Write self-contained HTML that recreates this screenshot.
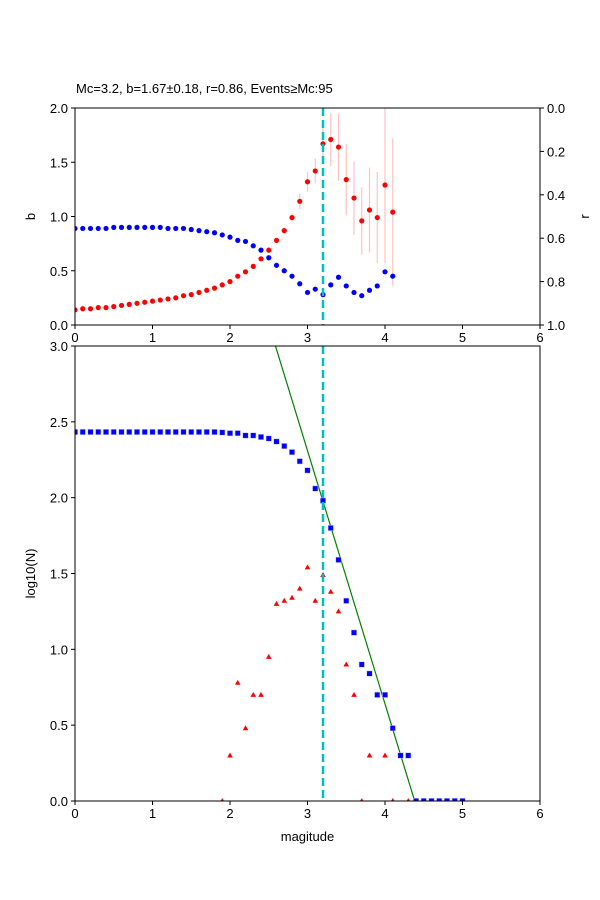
<!DOCTYPE html>
<html><head><meta charset="utf-8"><style>
body{margin:0;background:#fff}
svg{display:block;font-family:"Liberation Sans","DejaVu Sans",sans-serif}
</style></head><body>
<svg id="fig" width="600" height="900" viewBox="0 0 600 900"></svg>
<script>
const mags = [];
for (let i = 0; i <= 50; i++) mags.push(+(i / 10).toFixed(1));
// top panel data (mags 0..4.1)
const bValues = [0.14,0.15,0.15,0.16,0.16,0.17,0.18,0.19,0.20,0.21,0.22,0.23,0.24,0.25,0.27,0.28,0.30,0.32,0.34,0.37,0.40,0.45,0.49,0.54,0.61,0.69,0.78,0.87,0.99,1.14,1.32,1.42,1.67,1.71,1.64,1.34,1.17,0.96,1.06,0.99,1.29,1.04];
const bErrors = [0,0,0,0,0,0,0,0,0,0,0,0,0,0,0,0,0,0,0,0,0,0.01,0.01,0.01,0.02,0.02,0.02,0.03,0.04,0.07,0.09,0.115,0.17,0.245,0.31,0.33,0.34,0.31,0.39,0.42,0.72,0.68];
const rValues = [0.555,0.555,0.555,0.555,0.555,0.55,0.55,0.55,0.55,0.55,0.55,0.55,0.555,0.555,0.555,0.56,0.565,0.57,0.575,0.585,0.595,0.61,0.615,0.635,0.655,0.69,0.725,0.75,0.775,0.81,0.85,0.835,0.86,0.815,0.78,0.82,0.85,0.865,0.84,0.82,0.755,0.775];
// bottom panel data
const cumLogN = [2.433,2.433,2.433,2.433,2.433,2.433,2.433,2.433,2.433,2.433,2.433,2.433,2.433,2.433,2.433,2.433,2.433,2.433,2.433,2.43,2.425,2.425,2.41,2.41,2.40,2.39,2.37,2.34,2.30,2.24,2.18,2.06,1.98,1.80,1.59,1.32,1.11,0.90,0.84,0.70,0.70,0.48,0.30,0.30,0,0,0,0,0,0,0];
const ncMags = [1.9,2.0,2.1,2.2,2.3,2.4,2.5,2.6,2.7,2.8,2.9,3.0,3.1,3.2,3.3,3.4,3.5,3.6,3.7,3.8,4.0,4.1,4.3];
const ncLogN = [0,0.30,0.78,0.48,0.70,0.70,0.95,1.30,1.32,1.34,1.40,1.54,1.32,1.49,1.38,1.25,0.90,0.70,0,0.30,0.30,0,0];
const Mc = 3.2, bFit = 1.67, aFit = 7.32;
const xTicks = [0,1,2,3,4,5,6];
const bTicks = [0,0.5,1.0,1.5,2.0];
const rTicks = [0,0.2,0.4,0.6,0.8,1.0];
const nTicks = [0,0.5,1.0,1.5,2.0,2.5,3.0];

const NS = "http://www.w3.org/2000/svg";
const svg = document.getElementById('fig');
function el(tag, attrs, parent) {
  const e = document.createElementNS(NS, tag);
  for (const k in attrs) e.setAttribute(k, attrs[k]);
  (parent || svg).appendChild(e);
  return e;
}
const L = 75, R = 540;
const X = m => L + (m / 6) * (R - L);
const T0 = 108, T1 = 325, B0 = 346, B1 = 801;
const Yb = b => T1 - (b / 2) * (T1 - T0);
const Yr = r => T0 + r * (T1 - T0);
const Yn = n => B1 - (n / 3) * (B1 - B0);

// clip paths
const defs = el('defs', {});
const c1 = el('clipPath', {id: 'ct'}, defs); el('rect', {x: L, y: T0, width: R - L, height: T1 - T0}, c1);
const c2 = el('clipPath', {id: 'cb'}, defs); el('rect', {x: L, y: B0, width: R - L, height: B1 - B0}, c2);

// title
const title = el('text', {x: 76, y: 93, 'font-size': 13}); title.textContent = 'Mc=3.2, b=1.67±0.18, r=0.86, Events≥Mc:95';



// ===== top panel =====
const gt = el('g', {'clip-path': 'url(#ct)'});


bValues.forEach((b, i) => {
  const e = bErrors[i];
  if (e > 0) {
    const ln = el('line', {x1: X(mags[i]), x2: X(mags[i]), y1: Yb(b - e), y2: Yb(b + e), stroke: '#ffc0c0', 'stroke-width': 1.2}, gt);
    
    
  }
});
bValues.forEach((b, i) => {
  const c = el('circle', {cx: X(mags[i]), cy: Yb(b), r: 2.6, fill: 'red'}, gt);
  
  
});
rValues.forEach((r, i) => {
  const c = el('circle', {cx: X(mags[i]), cy: Yr(r), r: 2.6, fill: 'blue'}, gt);
  
  
});
const mt = el('line', {x1: X(Mc), x2: X(Mc), y1: T0, y2: T1, stroke: '#00bfbf', 'stroke-width': 2.5, 'stroke-dasharray': '8,4'});


el('rect', {x: L, y: T0, width: R - L, height: T1 - T0, fill: 'none', stroke: '#000', 'stroke-width': 1});

xTicks.forEach(t => {
  el('line', {x1: X(t), x2: X(t), y1: T1, y2: T1 + 4, stroke: '#000'});
  const tx = el('text', {x: X(t), y: T1 + 17, 'font-size': 13, 'text-anchor': 'middle'}); tx.textContent = t;
  
  
});
bTicks.forEach(t => {
  el('line', {x1: L - 4, x2: L, y1: Yb(t), y2: Yb(t), stroke: '#000'});
  const tx = el('text', {x: L - 7, y: Yb(t) + 5, 'font-size': 13, 'text-anchor': 'end'}); tx.textContent = t.toFixed(1);
  
  
});
rTicks.forEach(t => {
  el('line', {x1: R, x2: R + 4, y1: Yr(t), y2: Yr(t), stroke: '#000'});
  const tx = el('text', {x: R + 7, y: Yr(t) + 5, 'font-size': 13}); tx.textContent = t.toFixed(1);
  
  
});
const yb = el('text', {x: 0, y: 0, 'font-size': 13, 'text-anchor': 'middle', transform: `translate(35,${(T0 + T1) / 2}) rotate(-90)`}); yb.textContent = 'b';


const yr = el('text', {x: 0, y: 0, 'font-size': 13, 'text-anchor': 'middle', transform: `translate(589,${(T0 + T1) / 2}) rotate(-90)`}); yr.textContent = 'r';



// ===== bottom panel =====
const gb = el('g', {'clip-path': 'url(#cb)'});


const mStart = (aFit - 3.2) / bFit, mEnd = aFit / bFit;
const fit = el('line', {x1: X(mStart), y1: Yn(aFit - bFit * mStart), x2: X(mEnd), y2: Yn(aFit - bFit * mEnd), stroke: 'green', 'stroke-width': 1.2}, gb);


ncMags.forEach((m, i) => {
  const x = X(m), y = Yn(ncLogN[i]);
  const p = el('polygon', {points: `${x},${y - 3} ${x - 2.8},${y + 2} ${x + 2.8},${y + 2}`, fill: 'red'}, gb);
  
  
});
cumLogN.forEach((n, i) => {
  const x = X(mags[i]), y = Yn(n);
  const s = el('rect', {x: x - 2.7, y: y - 2.7, width: 5.4, height: 5.4, fill: 'blue', stroke: '#c8c8ff', 'stroke-width': 0.5}, gb);
  
  
});
const mb = el('line', {x1: X(Mc), x2: X(Mc), y1: B0, y2: B1, stroke: '#00bfbf', 'stroke-width': 2.5, 'stroke-dasharray': '8,4'});


el('rect', {x: L, y: B0, width: R - L, height: B1 - B0, fill: 'none', stroke: '#000', 'stroke-width': 1});
xTicks.forEach(t => {
  el('line', {x1: X(t), x2: X(t), y1: B1, y2: B1 + 4, stroke: '#000'});
  const tx = el('text', {x: X(t), y: B1 + 17, 'font-size': 13, 'text-anchor': 'middle'}); tx.textContent = t;
  
  
});
nTicks.forEach(t => {
  el('line', {x1: L - 4, x2: L, y1: Yn(t), y2: Yn(t), stroke: '#000'});
  const tx = el('text', {x: L - 7, y: Yn(t) + 5, 'font-size': 13, 'text-anchor': 'end'}); tx.textContent = t.toFixed(1);
  
  
});
const xt = el('text', {x: (L + R) / 2, y: 841, 'font-size': 13, 'text-anchor': 'middle'}); xt.textContent = 'magitude';


const yt = el('text', {x: 0, y: 0, 'font-size': 13, 'text-anchor': 'middle', transform: `translate(35,${(B0 + B1) / 2}) rotate(-90)`}); yt.textContent = 'log10(N)';


</script>
</body></html>
